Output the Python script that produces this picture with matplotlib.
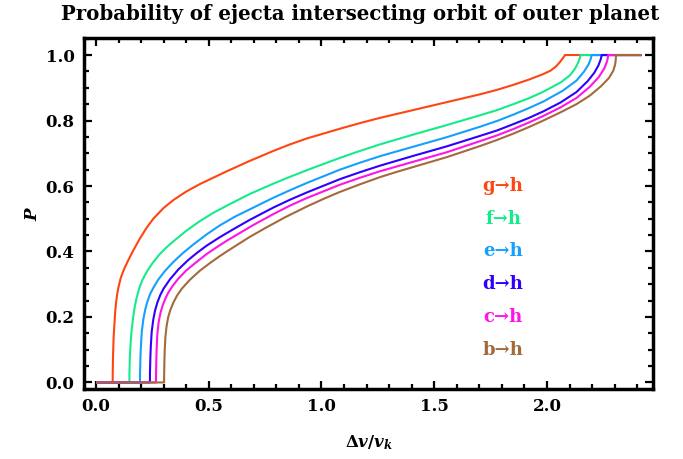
import matplotlib
matplotlib.use("Agg")
import matplotlib.pyplot as plt
from matplotlib.ticker import MultipleLocator, FormatStrFormatter

plt.rcParams['font.family'] = ['DejaVu Serif']
plt.rcParams['mathtext.fontset'] = 'custom'
plt.rcParams['mathtext.it'] = 'DejaVu Serif:italic:bold'
plt.rcParams['mathtext.rm'] = 'DejaVu Serif:bold'
plt.rcParams['mathtext.bf'] = 'DejaVu Serif:bold'

labels = ["g→h", "f→h", "e→h", "d→h", "c→h", "b→h"]
colors = ["#FF4511", "#14EB8A", "#14A0FF", "#3000FF", "#FF14E6", "#A36B3B"]

x_g = [0, 0.074, 0.0742, 0.0755, 0.078, 0.080, 0.085, 0.090, 0.094, 0.100, 0.110, 0.125, 0.140, 0.165, 0.195, 0.225, 0.254, 0.300, 0.343, 0.400, 0.461, 0.580, 0.683, 0.786, 0.860, 0.934, 1.082, 1.170, 1.259, 1.407, 1.555, 1.703, 1.780, 1.851, 1.920, 1.984, 2.015, 2.040, 2.058, 2.070, 2.077, 2.080, 2.42]
y_g = [0, 0, 0.03, 0.08, 0.135, 0.160, 0.215, 0.250, 0.270, 0.292, 0.320, 0.347, 0.369, 0.403, 0.440, 0.473, 0.500, 0.533, 0.557, 0.583, 0.606, 0.645, 0.677, 0.707, 0.727, 0.745, 0.775, 0.792, 0.808, 0.832, 0.856, 0.880, 0.894, 0.909, 0.925, 0.942, 0.952, 0.965, 0.979, 0.990, 0.997, 1.0, 1.0]

x_f = [0, 0.148, 0.1483, 0.150, 0.153, 0.158, 0.165, 0.172, 0.180, 0.192, 0.205, 0.225, 0.250, 0.280, 0.310, 0.343, 0.400, 0.461, 0.520, 0.580, 0.683, 0.786, 0.860, 0.934, 1.082, 1.170, 1.259, 1.407, 1.555, 1.703, 1.780, 1.851, 1.920, 1.984, 2.060, 2.102, 2.125, 2.139, 2.146, 2.149, 2.42]
y_f = [0, 0, 0.03, 0.075, 0.115, 0.160, 0.200, 0.232, 0.258, 0.288, 0.312, 0.338, 0.364, 0.390, 0.411, 0.431, 0.463, 0.493, 0.518, 0.540, 0.576, 0.607, 0.628, 0.648, 0.686, 0.707, 0.727, 0.757, 0.786, 0.816, 0.832, 0.850, 0.868, 0.888, 0.916, 0.938, 0.959, 0.978, 0.991, 1.0, 1.0]

x_e = [0, 0.195, 0.1953, 0.197, 0.199, 0.203, 0.210, 0.218, 0.227, 0.240, 0.255, 0.276, 0.305, 0.343, 0.385, 0.431, 0.490, 0.550, 0.615, 0.683, 0.786, 0.860, 0.934, 1.082, 1.170, 1.259, 1.407, 1.555, 1.703, 1.780, 1.851, 1.920, 1.984, 2.070, 2.131, 2.165, 2.185, 2.194, 2.198, 2.42]
y_e = [0, 0, 0.03, 0.075, 0.110, 0.155, 0.193, 0.222, 0.245, 0.270, 0.290, 0.314, 0.340, 0.368, 0.395, 0.421, 0.452, 0.480, 0.506, 0.529, 0.564, 0.587, 0.609, 0.650, 0.671, 0.691, 0.720, 0.749, 0.781, 0.799, 0.818, 0.838, 0.858, 0.891, 0.922, 0.950, 0.972, 0.988, 1.0, 1.0]

x_d = [0, 0.239, 0.2393, 0.241, 0.243, 0.247, 0.254, 0.262, 0.272, 0.285, 0.300, 0.328, 0.365, 0.409, 0.450, 0.491, 0.550, 0.609, 0.683, 0.786, 0.860, 0.934, 1.082, 1.170, 1.259, 1.407, 1.555, 1.703, 1.780, 1.851, 1.920, 1.984, 2.060, 2.131, 2.180, 2.210, 2.228, 2.238, 2.243, 2.42]
y_d = [0, 0, 0.03, 0.075, 0.110, 0.155, 0.192, 0.220, 0.244, 0.267, 0.287, 0.315, 0.345, 0.374, 0.397, 0.418, 0.444, 0.468, 0.497, 0.534, 0.558, 0.580, 0.621, 0.642, 0.662, 0.692, 0.721, 0.753, 0.770, 0.789, 0.808, 0.828, 0.855, 0.887, 0.920, 0.946, 0.968, 0.986, 1.0, 1.0]

x_c = [0, 0.266, 0.2663, 0.2675, 0.269, 0.272, 0.278, 0.286, 0.296, 0.308, 0.322, 0.340, 0.365, 0.400, 0.446, 0.490, 0.535, 0.585, 0.639, 0.698, 0.786, 0.860, 0.934, 1.082, 1.170, 1.259, 1.407, 1.555, 1.703, 1.780, 1.851, 1.920, 1.984, 2.060, 2.131, 2.190, 2.230, 2.255, 2.267, 2.272, 2.42]
y_c = [0, 0, 0.03, 0.070, 0.105, 0.148, 0.185, 0.213, 0.236, 0.257, 0.276, 0.295, 0.317, 0.342, 0.368, 0.392, 0.413, 0.435, 0.457, 0.481, 0.514, 0.540, 0.563, 0.604, 0.625, 0.645, 0.674, 0.703, 0.737, 0.755, 0.774, 0.794, 0.814, 0.840, 0.869, 0.903, 0.933, 0.960, 0.982, 1.0, 1.0]

x_b = [0, 0.302, 0.3023, 0.3035, 0.305, 0.308, 0.313, 0.320, 0.330, 0.343, 0.360, 0.380, 0.417, 0.460, 0.506, 0.545, 0.580, 0.630, 0.683, 0.757, 0.840, 0.934, 1.010, 1.082, 1.170, 1.259, 1.333, 1.407, 1.555, 1.703, 1.780, 1.851, 1.920, 1.984, 2.060, 2.131, 2.190, 2.240, 2.275, 2.294, 2.302, 2.305, 2.306, 2.42]
y_b = [0, 0, 0.03, 0.070, 0.103, 0.140, 0.172, 0.199, 0.222, 0.244, 0.266, 0.286, 0.314, 0.341, 0.365, 0.384, 0.400, 0.422, 0.445, 0.474, 0.505, 0.537, 0.561, 0.582, 0.605, 0.627, 0.643, 0.658, 0.688, 0.722, 0.741, 0.760, 0.780, 0.800, 0.825, 0.850, 0.876, 0.905, 0.930, 0.952, 0.970, 0.985, 1.0, 1.0]

series_x = [x_g, x_f, x_e, x_d, x_c, x_b]
series_y = [y_g, y_f, y_e, y_d, y_c, y_b]
label_y = [0.6, 0.5, 0.4, 0.3, 0.2, 0.1]
label_x = 1.805

fig = plt.figure(figsize=(6.83, 4.59), dpi=100)
ax = fig.add_axes([0.1234, 0.1532, 0.956 - 0.1234, 0.9172 - 0.1532])

for xs, ys, c in zip(series_x, series_y, colors):
    ax.plot(xs, ys, color=c, lw=1.5, solid_joinstyle='round', solid_capstyle='butt')

for lab, c, ly in zip(labels, colors, label_y):
    ax.text(label_x, ly, lab, color=c, fontsize=13, fontweight='bold',
            ha='center', va='center', family=['DejaVu Serif', 'DejaVu Sans'])

ax.set_xlim(-0.052, 2.47)
ax.set_ylim(-0.019, 1.052)
ax.xaxis.set_major_locator(MultipleLocator(0.5))
ax.xaxis.set_minor_locator(MultipleLocator(0.1))
ax.yaxis.set_major_locator(MultipleLocator(0.2))
ax.yaxis.set_minor_locator(MultipleLocator(0.05))
ax.xaxis.set_major_formatter(FormatStrFormatter('%.1f'))
ax.yaxis.set_major_formatter(FormatStrFormatter('%.1f'))
ax.tick_params(which='both', direction='in', top=True, right=True, width=1.6, color='black')
ax.tick_params(which='major', length=6, labelsize=12, pad=7)
ax.tick_params(which='minor', length=3.5)
for lab in ax.get_xticklabels() + ax.get_yticklabels():
    lab.set_fontweight('bold')
for sp in ax.spines.values():
    sp.set_linewidth(2.5)

fig.text(360 / 683, 1 - 14 / 459, "Probability of ejecta intersecting orbit of outer planet",
         fontsize=14.2, fontweight='bold', ha='center', va='center')
ax.set_xlabel(r"$\Delta v/v_k$", fontsize=12, labelpad=13)
ax.set_ylabel(r"$P$", fontsize=12, rotation=90, labelpad=3)

fig.savefig("out.png", dpi=100)
